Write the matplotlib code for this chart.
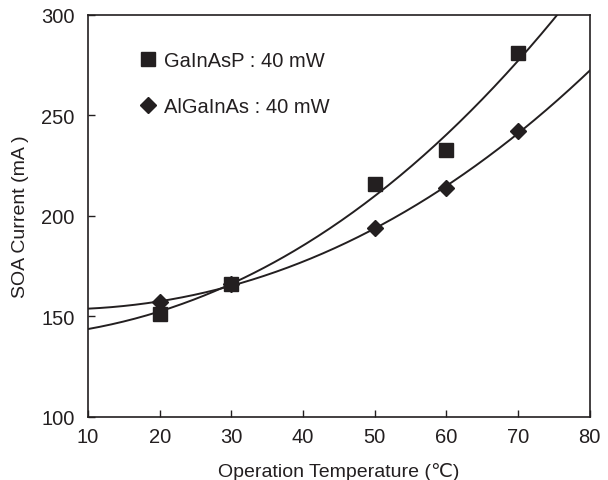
import numpy as np
import matplotlib
import matplotlib.pyplot as plt

matplotlib.use('Agg')

plt.rcParams['font.family'] = ['Liberation Sans', 'DejaVu Sans']

# measured points
temp = [20, 30, 50, 60, 70]
gainasp = [151, 166, 216, 233, 281]
algainas = [157, 166, 194, 214, 242]

# fitted curves
curve_x = [10, 20, 30, 40, 50, 60, 70, 75.4]
curve_gainasp = [144, 152, 166, 186, 210, 240, 277, 300]
curve_x2 = [10, 20, 30, 40, 50, 60, 70, 80]
curve_algainas = [154, 157, 166, 177, 194, 214, 242, 272]

ink = '#231f20'

fig = plt.figure(figsize=(6.08, 4.81), dpi=100)
ax = fig.add_axes([0.1447, 0.131, 0.8253, 0.836])

xs = np.linspace(10, 80, 300)
p1 = np.polyfit(curve_x, curve_gainasp, 3)
p2 = np.polyfit(curve_x2, curve_algainas, 3)
ax.plot(xs, np.polyval(p1, xs), color=ink, lw=1.4)
ax.plot(xs, np.polyval(p2, xs), color=ink, lw=1.4)

ax.plot(temp, gainasp, 's', color=ink, ms=9.5, label='GaInAsP : 40 mW')
ax.plot(temp, algainas, 'D', color=ink, ms=8.5, label='AlGaInAs : 40 mW')

ax.set_xlim(10, 80)
ax.set_ylim(100, 300)
ax.set_xticks(range(10, 81, 10))
ax.set_yticks(range(100, 301, 50))
ax.tick_params(direction='in', length=5, width=1, labelsize=14.5, color=ink, labelcolor=ink)
ax.tick_params(axis='x', pad=7)
ax.tick_params(axis='y', pad=9.5)
for s in ax.spines.values():
    s.set_linewidth(1.2)
    s.set_color(ink)

ax.set_xlabel('Operation Temperature (℃)', fontsize=14, labelpad=12, color=ink)
ax.set_ylabel('SOA Current (mA )', fontsize=14, labelpad=9, color=ink)

ax.legend(loc='upper left', bbox_to_anchor=(0.07, 0.955), frameon=False, fontsize=14.5,
          handlelength=0.7, handletextpad=0.45, labelspacing=1.35, numpoints=1,
          labelcolor=ink)

fig.savefig('out.png', dpi=100)
